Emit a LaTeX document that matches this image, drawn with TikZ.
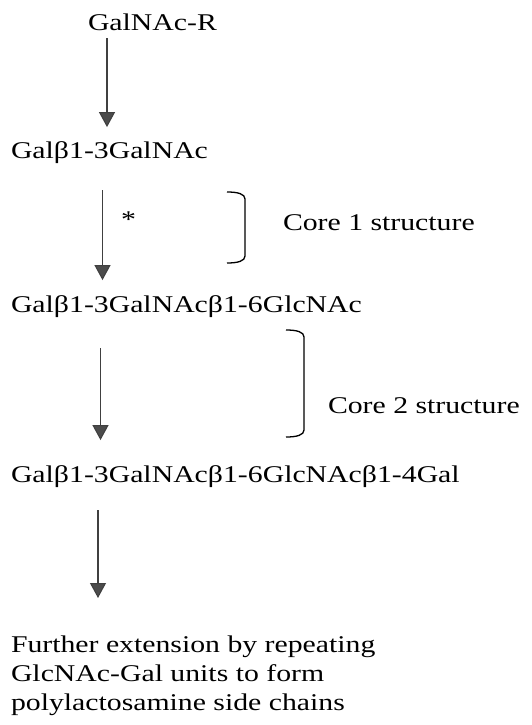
\documentclass[tikz,border=0pt]{standalone}
\usepackage{fontspec}
\setmainfont[FakeStretch=1.24]{Liberation Serif}
\usetikzlibrary{arrows.meta}
\begin{document}
\begin{tikzpicture}[x=1pt,y=-1pt,
  lbl/.style={inner sep=0pt, outer sep=0pt, anchor=base west, font=\fontsize{24}{29}\selectfont},
  arr/.style={draw=black!75, line width=1.1pt, -{Triangle[width=16pt,length=15pt,fill=black!70]}},
  brk/.style={draw=black, line width=1.3pt}]
\useasboundingbox (0,0) rectangle (532,725);
% nodes
\node[lbl] (n1) at (88,30.5) {GalNAc-R};
\node[lbl] (n2) at (11,158) {Galβ1-3GalNAc};
\node[lbl] (n3) at (11,312) {Galβ1-3GalNAcβ1-6GlcNAc};
\node[lbl] (n4) at (11,482) {Galβ1-3GalNAcβ1-6GlcNAcβ1-4Gal};
\node[lbl, anchor=north west, align=left] (n5) at (11,635.6)
  {Further extension by repeating\\GlcNAc-Gal units to form\\polylactosamine side chains};
\node[lbl] (star) at (121,227) {*};
\node[lbl] (c1) at (283,230) {Core 1 structure};
\node[lbl] (c2) at (328,413) {Core 2 structure};
% x positions of the arrows
\coordinate (x1) at (107,0);
\coordinate (x2) at (102.5,0);
\coordinate (x3) at (100.5,0);
\coordinate (x4) at (98,0);
% arrows
\draw[arr, shorten <=7.5pt, shorten >=14pt] (n1.south -| x1) -- (n2.north -| x1);
\draw[arr, shorten <=27pt, shorten >=15pt] (n2.south -| x2) -- (n3.north -| x2);
\draw[arr, shorten <=31pt, shorten >=25pt] (n3.south -| x3) -- (n4.north -| x3);
\draw[arr, shorten <=23pt, shorten >=37.6pt] (n4.south -| x4) -- (n5.north -| x4);
% brackets
\draw[brk] (227,192) .. controls (238,192) and (245,194) .. (245,199) -- (245,256) .. controls (245,261) and (238,263) .. (227,263);
\draw[brk] (286,330) .. controls (297,330) and (304,332) .. (304,337) -- (304,430) .. controls (304,435) and (297,437) .. (286,437);
\end{tikzpicture}
\end{document}
